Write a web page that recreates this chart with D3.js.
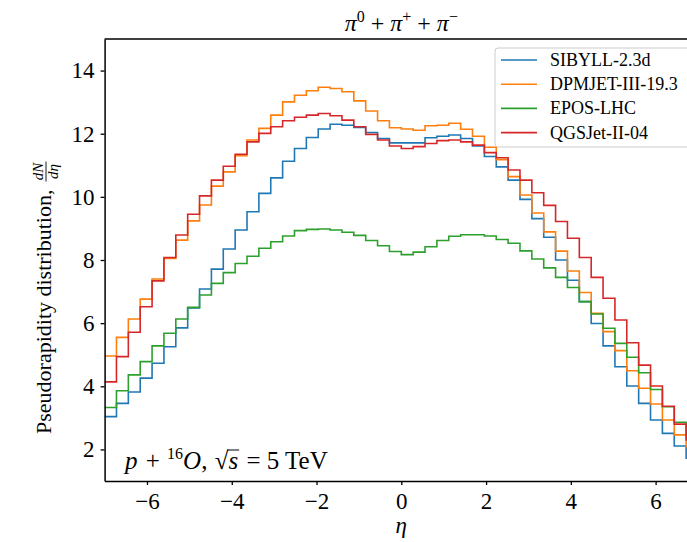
<!DOCTYPE html>
<html>
<head>
<meta charset="utf-8">
<script src="https://cdn.jsdelivr.net/npm/d3@7"></script>
<style>
  body { margin: 0; background: #fff; }
  svg { display: block; }
  text { font-family: "Liberation Serif", "DejaVu Serif", serif; fill: #000; white-space: pre; }
</style>
</head>
<body>
<div class="container"></div>
<script>
// eta binning of the histograms
const etaMin = -7, etaMax = 7, nBins = 50;

const models = ['SIBYLL-2.3d', 'DPMJET-III-19.3', 'EPOS-LHC', 'QGSJet-II-04'];
const colors = ['#1f77b4', '#ff7f0e', '#2ca02c', '#d62728'];

// dN/deta per bin
const sibyll = [3.04, 3.46, 3.82, 4.26, 4.73, 5.25, 5.85, 6.48, 7.08, 7.71,
  8.35, 8.95, 9.53, 10.11, 10.60, 11.13, 11.53, 11.88, 12.15, 12.30,
  12.27, 12.20, 12.04, 11.85, 11.71, 11.71, 11.71, 11.87, 11.92, 11.96,
  11.85, 11.61, 11.28, 10.95, 10.53, 9.92, 9.31, 8.72, 8.00, 7.36,
  6.68, 5.99, 5.28, 4.62, 4.01, 3.46, 2.93, 2.51, 2.11, 1.72];
const dpmjet = [4.96, 5.55, 6.13, 6.76, 7.40, 8.05, 8.63, 9.24, 9.74, 10.34,
  10.79, 11.30, 11.80, 12.17, 12.59, 13.01, 13.22, 13.36, 13.47, 13.43,
  13.33, 13.04, 12.72, 12.41, 12.19, 12.15, 12.11, 12.25, 12.27, 12.33,
  12.14, 11.92, 11.57, 11.18, 10.64, 10.06, 9.49, 8.89, 8.28, 7.65,
  6.97, 6.31, 5.73, 5.13, 4.49, 3.94, 3.44, 2.93, 2.46, 2.09];
const epos = [3.33, 3.86, 4.36, 4.78, 5.28, 5.68, 6.13, 6.50, 6.89, 7.26,
  7.60, 7.89, 8.12, 8.37, 8.58, 8.76, 8.93, 8.97, 8.98, 8.95,
  8.88, 8.78, 8.62, 8.45, 8.27, 8.17, 8.25, 8.42, 8.62, 8.75,
  8.80, 8.80, 8.76, 8.65, 8.53, 8.29, 8.03, 7.75, 7.45, 7.13,
  6.68, 6.29, 5.84, 5.36, 4.92, 4.43, 3.90, 3.35, 2.86, 2.45];
const qgsjet = [4.14, 4.94, 5.71, 6.52, 7.34, 8.08, 8.79, 9.45, 10.03, 10.53,
  10.97, 11.35, 11.74, 12.01, 12.22, 12.41, 12.52, 12.59, 12.64, 12.57,
  12.43, 12.22, 11.98, 11.80, 11.61, 11.53, 11.59, 11.69, 11.78, 11.80,
  11.74, 11.64, 11.40, 11.24, 10.85, 10.53, 10.13, 9.73, 9.22, 8.69,
  8.08, 7.45, 6.79, 6.10, 5.38, 4.67, 4.01, 3.37, 2.80, 2.30];
const series = [sibyll, dpmjet, epos, qgsjet];

const xTicks = [-6, -4, -2, 0, 2, 4, 6];
const yTicks = [2, 4, 6, 8, 10, 12, 14];

// the figure is cut off on the right, the axes box goes past the window
const W = 687, H = 542;
const margin = { top: 39, left: 104.6 },
  width = 593.4,
  height = 442;

const x = d3.scaleLinear().domain([etaMin, etaMax]).range([margin.left, margin.left + width]);
const y = d3.scaleLinear().domain([1, 15]).range([margin.top + height, margin.top]);

const edges = d3.range(nBins + 1).map(i => etaMin + i * (etaMax - etaMin) / nBins);

const svg = d3.select('.container').append('svg')
  .attr('width', W)
  .attr('height', H);

svg.append('clipPath').attr('id', 'plot')
  .append('rect')
  .attr('x', margin.left).attr('y', margin.top)
  .attr('width', width).attr('height', height);

// step histograms
const step = d3.line()
  .x(d => x(d[0]))
  .y(d => y(d[1]))
  .curve(d3.curveStepAfter);

series.forEach((vals, s) => {
  const pts = vals.map((v, i) => [edges[i], v]);
  pts.push([edges[nBins], vals[nBins - 1]]);
  svg.append('path')
    .datum(pts)
    .attr('clip-path', 'url(#plot)')
    .attr('fill', 'none')
    .attr('stroke', colors[s])
    .attr('stroke-width', 1.6)
    .attr('d', step);
});

// axes
const xAxis = svg.append('g')
  .attr('transform', `translate(0,${margin.top + height})`)
  .call(d3.axisBottom(x).tickValues(xTicks).tickSize(4).tickSizeOuter(0).tickPadding(6));
const yAxis = svg.append('g')
  .attr('transform', `translate(${margin.left},0)`)
  .call(d3.axisLeft(y).tickValues(yTicks).tickSize(4).tickSizeOuter(0).tickPadding(6));

[xAxis, yAxis].forEach((g) => {
  g.attr('font-family', null).attr('font-size', null);
  g.selectAll('text').style('font-size', '23px').attr('fill', '#000');
  g.select('.domain').attr('stroke-width', 1.5);
  g.selectAll('.tick line').attr('stroke-width', 1.3);
});
xAxis.selectAll('text').attr('dy', '0.78em');

svg.append('line')
  .attr('x1', margin.left).attr('x2', margin.left + width)
  .attr('y1', margin.top).attr('y2', margin.top)
  .attr('stroke', '#000').attr('stroke-width', 1.5);

// title
const title = svg.append('text')
  .attr('x', x(0)).attr('y', 31)
  .attr('text-anchor', 'middle')
  .style('font-size', '24px');
title.append('tspan').style('font-style', 'italic').text('π');
title.append('tspan').attr('dy', -9).style('font-size', '16px').text('0');
title.append('tspan').attr('dy', 9).text(' + ');
title.append('tspan').style('font-style', 'italic').text('π');
title.append('tspan').attr('dy', -9).style('font-size', '16px').text('+');
title.append('tspan').attr('dy', 9).text(' + ');
title.append('tspan').style('font-style', 'italic').text('π');
title.append('tspan').attr('dy', -9).style('font-size', '16px').text('−');

// x label
svg.append('text')
  .attr('x', x(0)).attr('y', 533)
  .attr('text-anchor', 'middle')
  .style('font-size', '23px').style('font-style', 'italic')
  .text('η');

// y label with the dN/deta fraction
const yl = svg.append('g').attr('transform', 'translate(51,434) rotate(-90)');
const ylt = yl.append('text').style('font-size', '22px').text('Pseudorapidity distribution,');
const lw = ylt.node().getComputedTextLength() + 8;
yl.append('text').attr('x', lw + 10).attr('y', -8)
  .attr('text-anchor', 'middle').style('font-size', '15px').style('font-style', 'italic').text('dN');
yl.append('line').attr('x1', lw).attr('x2', lw + 20).attr('y1', -5).attr('y2', -5)
  .attr('stroke', '#000').attr('stroke-width', 0.9);
yl.append('text').attr('x', lw + 10).attr('y', 7)
  .attr('text-anchor', 'middle').style('font-size', '15px').style('font-style', 'italic').text('dη');

// collision annotation, built piece by piece
function rich(x0, y0, parts) {
  let cx = x0;
  const g = svg.append('g');
  parts.forEach((p) => {
    const t = g.append('text')
      .attr('x', cx).attr('y', y0 + (p.dy || 0))
      .style('font-size', `${p.size || 25}px`)
      .style('font-style', p.italic ? 'italic' : 'normal')
      .text(p.t);
    const w = t.node().getComputedTextLength();
    if (p.over) {
      g.append('line').attr('x1', cx - 1).attr('x2', cx + w + 1)
        .attr('y1', y0 - 19).attr('y2', y0 - 19)
        .attr('stroke', '#000').attr('stroke-width', 1);
    }
    cx += w + (p.gap || 0);
  });
}
rich(125, 469, [
  { t: 'p', italic: true, gap: 2 },
  { t: ' + ', gap: 1 },
  { t: '16', size: 16, dy: -10 },
  { t: 'O', italic: true },
  { t: ', ', gap: 1 },
  { t: '√' },
  { t: 's', italic: true, over: true, gap: 2 },
  { t: ' = 5 TeV' },
]);

// legend
const leg = svg.append('g');
leg.append('rect')
  .attr('x', 495).attr('y', 48).attr('width', 220).attr('height', 99)
  .attr('rx', 3)
  .attr('fill', '#fff').attr('fill-opacity', 0.8)
  .attr('stroke', '#ccc').attr('stroke-width', 1);
models.forEach((m, i) => {
  const ly = 60 + i * 24.2;
  leg.append('line')
    .attr('x1', 501).attr('x2', 537).attr('y1', ly).attr('y2', ly)
    .attr('stroke', colors[i]).attr('stroke-width', 1.6);
  leg.append('text')
    .attr('x', 550).attr('y', ly + 6)
    .style('font-size', '18px')
    .text(m);
});
</script>
</body>
</html>
